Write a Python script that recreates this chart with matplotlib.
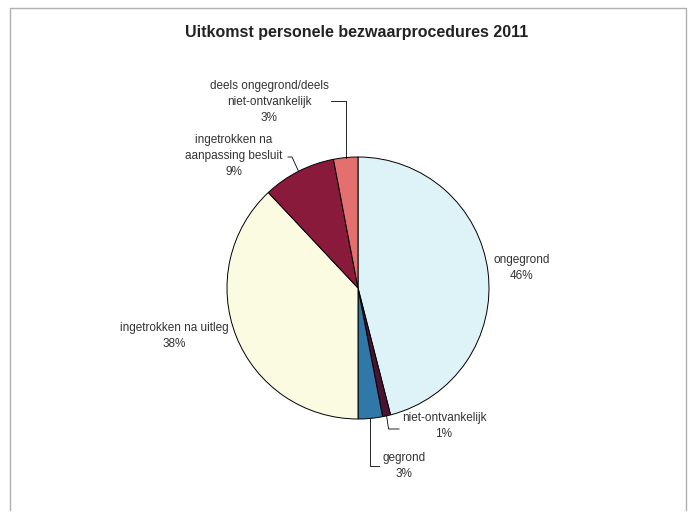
import numpy as np
import matplotlib.pyplot as plt

# Uitkomst personele bezwaarprocedures 2011 (percentages)
categories = ["ongegrond", "niet-ontvankelijk", "gegrond",
              "ingetrokken na uitleg", "ingetrokken na\naanpassing besluit",
              "deels ongegrond/deels\nniet-ontvankelijk"]
shares = [46, 1, 3, 38, 9, 3]
colors = ["#ddf3f8", "#4a1233", "#2f78a8", "#fbfbe2", "#8a1a3b", "#e36f6f"]

W, H = 693, 514


def setup_figure():
    plt.rcParams['font.family'] = ['Liberation Sans', 'DejaVu Sans']
    fig = plt.figure(figsize=(W / 100, H / 100), dpi=100)
    ax = fig.add_axes([0, 0, 1, 1])
    ax.set_xlim(0, W)
    ax.set_ylim(0, H)
    ax.set_aspect('equal')
    ax.axis('off')
    # outer frame of the chart area
    ax.plot([10, 10, 686, 686], [4, 506, 506, 4], color="#b0b0b0", lw=1.0)
    return fig, ax


def draw_pie(ax):
    cx, cy, r = 358, H - 288, 131
    wedges, _ = ax.pie(shares, colors=colors, startangle=90, counterclock=False,
                       center=(cx, cy), radius=r, frame=True,
                       wedgeprops=dict(edgecolor="black", linewidth=0.7))
    ax.set_xlim(0, W)
    ax.set_ylim(0, H)
    ax.axis('off')

    # mid angles of the wedges, for the leader lines
    def edge_point(i, frac=1.0):
        w = wedges[i]
        a = np.deg2rad((w.theta1 + w.theta2) / 2)
        return cx + r * frac * np.cos(a), cy + r * frac * np.sin(a)

    labels = [f"{c}\n{s}%" for c, s in zip(categories, shares)]
    fs = 8.5
    tc = "#333333"
    # ongegrond
    ax.text(522, H - 268, labels[0], ha='center', va='center', fontsize=fs,
            color=tc, linespacing=1.45)
    # niet-ontvankelijk
    ax.text(444, H - 426, labels[1], ha='center', va='center', fontsize=fs,
            color=tc, linespacing=1.45)
    px, py = edge_point(1)
    ax.plot([px, px + 2, 399], [py, H - 429, H - 429], color="black", lw=0.6)
    # gegrond
    ax.text(404, H - 466, labels[2], ha='center', va='center', fontsize=fs,
            color=tc, linespacing=1.45)
    px, py = edge_point(2)
    ax.plot([px, px, 379], [py, H - 466, H - 466], color="black", lw=0.6)
    # ingetrokken na uitleg
    ax.text(174, H - 336, labels[3], ha='center', va='center', fontsize=fs,
            color=tc, linespacing=1.45)
    # ingetrokken na aanpassing besluit
    ax.text(234, H - 156, labels[4], ha='center', va='center', fontsize=fs,
            color=tc, linespacing=1.45)
    px, py = edge_point(4)
    ax.plot([288, 292, px], [H - 157, H - 157, py], color="black", lw=0.6)
    # deels ongegrond/deels niet-ontvankelijk
    ax.text(269, H - 102, labels[5], ha='center', va='center', fontsize=fs,
            color=tc, linespacing=1.45)
    px, py = edge_point(5)
    ax.plot([331, px, px], [H - 101, H - 101, py], color="black", lw=0.6)


def add_title(ax):
    ax.text(357, H - 32, "Uitkomst personele bezwaarprocedures 2011",
            ha='center', va='center', fontsize=11.5, fontweight='bold',
            color="#222222")


if __name__ == "__main__":
    fig, ax = setup_figure()
    draw_pie(ax)
    add_title(ax)
    fig.savefig("out.png", dpi=100, facecolor="white")
